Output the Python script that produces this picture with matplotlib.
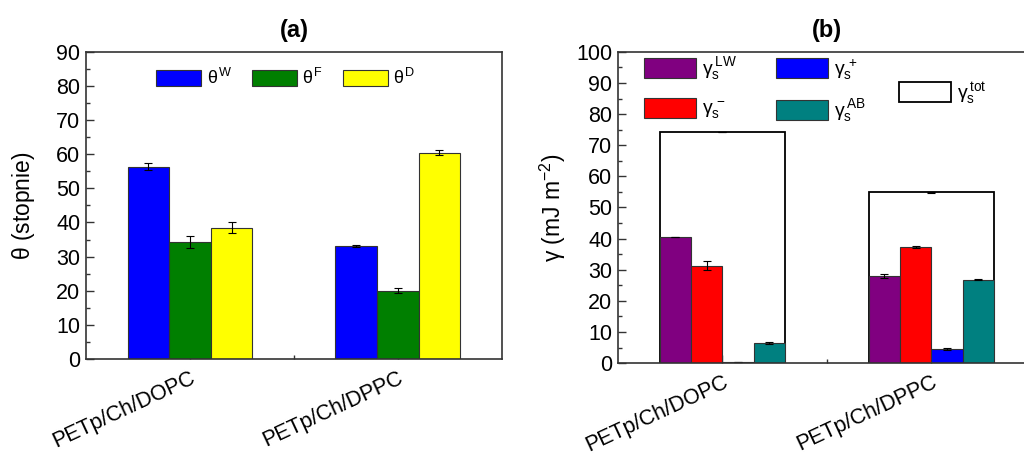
import matplotlib
matplotlib.use("Agg")
import matplotlib.pyplot as plt
from matplotlib.patches import Patch
import numpy as np

plt.rcParams['font.family'] = ['Liberation Sans', 'DejaVu Sans']
plt.rcParams['mathtext.fontset'] = 'custom'
plt.rcParams['mathtext.rm'] = 'Liberation Sans'
plt.rcParams['mathtext.it'] = 'Liberation Sans'
plt.rcParams['mathtext.bf'] = 'Liberation Sans:bold'

samples = ["PETp/Ch/DOPC", "PETp/Ch/DPPC"]

# (a) contact angles
theta_labels = [r"$\theta^{W}$", r"$\theta^{F}$", r"$\theta^{D}$"]
theta_colors = ["#0000ff", "#007f00", "#ffff00"]
theta_vals = [[56.4, 33.1], [34.2, 20.0], [38.5, 60.5]]
theta_err = [[1.1, 0.2], [1.8, 0.7], [1.6, 0.8]]

# (b) surface free energy components
gamma_labels = [r"$\gamma_{s}^{\,LW}$", r"$\gamma_{s}^{\,-}$", r"$\gamma_{s}^{\,+}$", r"$\gamma_{s}^{\,AB}$"]
gamma_colors = ["#800080", "#ff0000", "#0000ff", "#008080"]
gamma_vals = [[40.6, 28.0], [31.3, 37.3], [0.2, 4.5], [6.5, 26.8]]
gamma_err = [[0.0, 0.5], [1.5, 0.2], [0.0, 0.2], [0.3, 0.2]]
gamma_tot_label = r"$\gamma_{s}^{\,tot}$"
gamma_tot = [74.2, 54.9]
gamma_tot_err = [0.0, 0.2]

EDGE = "#333333"
fig = plt.figure(figsize=(10.24, 4.55), dpi=100)
axa = fig.add_axes([0.084, 0.211, 0.406, 0.675])
axb = fig.add_axes([0.6035, 0.202, 0.408, 0.684])

x = np.arange(1, len(samples) + 1)


def style_axis(ax, ymax, ystep):
    ax.set_xlim(0.5, 2.5)
    ax.set_ylim(0, ymax)
    ax.set_yticks(np.arange(0, ymax + 1, ystep))
    ax.set_yticks(np.arange(0, ymax + 1, ystep / 2), minor=True)
    ax.set_xticks(x)
    ax.set_xticks([1.5], minor=True)
    ax.tick_params(axis='both', which='major', direction='in', length=6, width=1,
                   color=EDGE, labelsize=15.5, pad=4)
    ax.tick_params(axis='x', which='major', pad=6)
    ax.tick_params(axis='both', which='minor', direction='in', length=3, width=1, color=EDGE)
    ax.set_xticklabels(samples, rotation=25, ha='right', rotation_mode='anchor', fontsize=15.5)
    for s in ax.spines.values():
        s.set_color(EDGE)
        s.set_linewidth(1.2)


# panel (a)
wa = 0.2
for i in range(3):
    axa.bar(x + (i - 1) * wa, theta_vals[i], wa, color=theta_colors[i], edgecolor=EDGE,
            linewidth=0.8, label=theta_labels[i], yerr=theta_err[i],
            error_kw=dict(ecolor='black', elinewidth=0.8, capsize=3, capthick=0.8), zorder=2)
style_axis(axa, 90, 10)
axa.set_ylabel(r"$\theta$ (stopnie)", fontsize=16.5, labelpad=14)
axa.set_title("(a)", fontsize=17, fontweight='bold', pad=11)
axa.legend(loc='upper center', ncol=3, frameon=False, fontsize=13, handlelength=2.5,
           handleheight=0.95, columnspacing=1.1, handletextpad=0.3, bbox_to_anchor=(0.48, 1.0))

# panel (b)
wb = 0.15
axb.bar(x, gamma_tot, 0.6, color='white', edgecolor='black', linewidth=1.3, yerr=gamma_tot_err,
        error_kw=dict(ecolor='black', elinewidth=0.8, capsize=3, capthick=0.8), zorder=1)
for i in range(4):
    axb.bar(x + (i - 1.5) * wb, gamma_vals[i], wb, color=gamma_colors[i], edgecolor=EDGE,
            linewidth=0.8, yerr=gamma_err[i],
            error_kw=dict(ecolor='black', elinewidth=0.8, capsize=3, capthick=0.8), zorder=2)
style_axis(axb, 100, 10)
axb.set_ylabel(r"$\gamma$ (mJ m$^{-2}$)", fontsize=16.5, labelpad=6)
axb.set_title("(b)", fontsize=17, fontweight='bold', pad=11)

handles = [Patch(facecolor=c, edgecolor=EDGE, linewidth=0.8) for c in gamma_colors]
leg1 = axb.legend(handles, gamma_labels, loc='upper left', ncol=2, frameon=False, fontsize=14,
                  handlelength=2.7, handleheight=1.2, columnspacing=2.0, handletextpad=0.3,
                  labelspacing=0.8, bbox_to_anchor=(0.02, 1.045))
axb.add_artist(leg1)
axb.legend([Patch(facecolor='white', edgecolor='black', linewidth=1.3)], [gamma_tot_label],
           loc='upper left', frameon=False, fontsize=14, handlelength=2.7, handleheight=1.2,
           handletextpad=0.3, bbox_to_anchor=(0.63, 0.965))

fig.savefig("out.png", dpi=100)
